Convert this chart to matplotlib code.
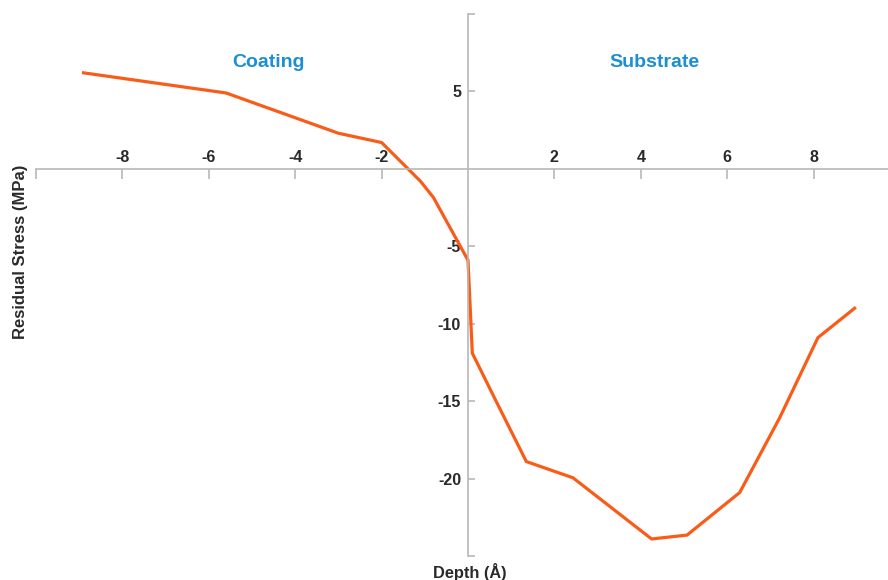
import matplotlib
matplotlib.use("Agg")
import matplotlib.pyplot as plt

# depth profile
depth = [-8.9, -5.6, -3.0, -2.0, -1.1, -0.8, 0.0, 0.1, 0.65, 1.35, 2.43,
         4.25, 5.07, 6.29, 7.21, 8.1, 8.95]
stress = [6.2, 4.9, 2.3, 1.7, -0.8, -1.85, -5.9, -11.9, -15.0, -18.9, -19.95,
          -23.9, -23.65, -20.9, -16.1, -10.9, -9.0]

x_ticks = [-10, -8, -6, -4, -2, 2, 4, 6, 8, 10]
x_labels = ["", "-8", "-6", "-4", "-2", "2", "4", "6", "8", ""]
y_ticks = [-25, -20, -15, -10, -5, 5, 10]
y_labels = ["", "-20", "-15", "-10", "-5", "5", ""]

region_names = ["Coating", "Substrate"]
region_x = [-4.62, 4.32]
region_y = [6.84, 6.84]

plt.rcParams["font.family"] = ["Liberation Sans", "DejaVu Sans"]
plt.rcParams["font.weight"] = "bold"

fig = plt.figure(figsize=(8.88, 5.8), dpi=100)
W, H = 888, 580
ax = fig.add_axes([36 / W, 1 - 556 / H, 864 / W, 542 / H])

line_color = "#f95c18"
axis_color = "#b8b8b8"
text_color = "#2a2a2a"

ax.plot(depth, stress, color=line_color, linewidth=2.3, solid_joinstyle="miter")

ax.set_xlim(-10, 10)
ax.set_ylim(-25, 10)

# axes through the origin
ax.spines["left"].set_position(("data", 0))
ax.spines["top"].set_position(("data", 0))
ax.spines["bottom"].set_visible(False)
ax.spines["right"].set_visible(False)
for s in ("left", "top"):
    ax.spines[s].set_color(axis_color)
    ax.spines[s].set_linewidth(1.2)

ax.xaxis.set_ticks_position("top")
ax.set_xticks(x_ticks, x_labels)
ax.tick_params(axis="x", direction="in", length=7, width=1.2, color=axis_color,
               pad=3, labelsize=11.5, labelcolor=text_color)

ax.yaxis.set_ticks_position("left")
ax.set_yticks(y_ticks, y_labels)
ax.tick_params(axis="y", direction="in", length=5, width=1.2, color=axis_color,
               pad=5, labelsize=11.5, labelcolor=text_color)

for name, tx, ty in zip(region_names, region_x, region_y):
    ax.text(tx, ty, name, color="#1a8fd2", fontsize=14, fontweight="bold",
            ha="center", va="center")

fig.text(470 / W, 1 - 572 / H, "Depth (Å)", ha="center", va="center",
         fontsize=11.8, fontweight="bold", color=text_color)
fig.text(21 / W, 1 - 252 / H, "Residual Stress (MPa)", ha="center", va="center",
         rotation=90, fontsize=12, fontweight="bold", color=text_color)

fig.savefig("out.png", dpi=100)
